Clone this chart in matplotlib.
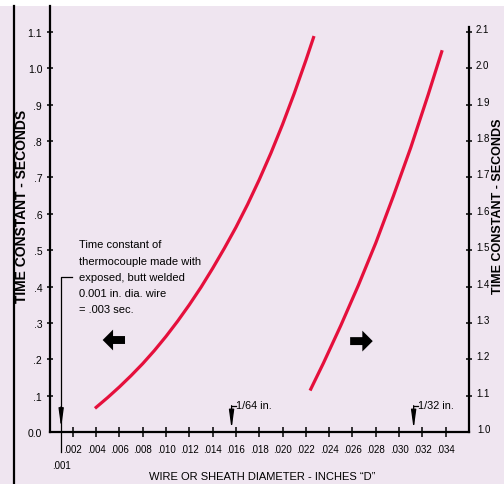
import matplotlib
matplotlib.use('Agg')
import matplotlib.pyplot as plt
from matplotlib import font_manager
from matplotlib.transforms import ScaledTranslation
from matplotlib.patches import Rectangle
from matplotlib.lines import Line2D

# ---- data ----
left_x = [0.0039, 0.0050, 0.0060, 0.0070, 0.0080, 0.0090, 0.0100, 0.0110, 0.0120, 0.0130,
          0.0140, 0.0150, 0.0160, 0.0170, 0.0180, 0.0190, 0.0200, 0.0210, 0.0220, 0.0227]
left_y = [0.065, 0.095, 0.124, 0.155, 0.188, 0.224, 0.263, 0.305, 0.350, 0.398,
          0.450, 0.505, 0.563, 0.626, 0.694, 0.767, 0.846, 0.931, 1.022, 1.089]
right_x = [0.02236, 0.0235, 0.0250, 0.0265, 0.0280, 0.0295, 0.0310, 0.0325, 0.0337]
right_y = [1.114, 1.189, 1.293, 1.403, 1.520, 1.648, 1.782, 1.928, 2.050]

x_ticks = [0.002, 0.004, 0.006, 0.008, 0.010, 0.012, 0.014, 0.016, 0.018,
           0.020, 0.022, 0.024, 0.026, 0.028, 0.030, 0.032, 0.034]
x_labels = ['.002', '.004', '.006', '.008', '.010', '.012', '.014', '.016', '.018',
            '.020', '.022', '.024', '.026', '.028', '.030', '.032', '.034']
left_ticks = [0.1, 0.2, 0.3, 0.4, 0.5, 0.6, 0.7, 0.8, 0.9, 1.0, 1.1]
left_labels = ['.1', '.2', '.3', '.4', '.5', '.6', '.7', '.8', '.9', '1.0', '1.1']
right_ticks = [1.1, 1.2, 1.3, 1.4, 1.5, 1.6, 1.7, 1.8, 1.9, 2.0, 2.1]
right_labels = ['1.1', '1.2', '1.3', '1.4', '1.5', '1.6', '1.7', '1.8', '1.9', '2.0', '2.1']

note_text = ("Time constant of\nthermocouple made with\nexposed, butt welded\n"
             "0.001 in. dia. wire\n= .003 sec.")

# ---- fonts ----
names = {f.name for f in font_manager.fontManager.ttflist}
NARROW = 'Liberation Sans Narrow' if 'Liberation Sans Narrow' in names else 'Liberation Sans'
plt.rcParams['font.family'] = [NARROW, 'DejaVu Sans']

BG = '#EFE5F0'
RED = '#E5103C'

fig = plt.figure(figsize=(5.04, 4.85), dpi=100)
fig.patch.set_facecolor('white')
fig.patches.append(Rectangle((0, 0), 1, 478 / 485, transform=fig.transFigure,
                             facecolor=BG, edgecolor='none', zorder=-10))
fig.add_artist(Line2D([13.5 / 504] * 2, [0, 478 / 485], transform=fig.transFigure,
                      color='black', lw=1.6))

ax = fig.add_axes([49.5 / 504, 52 / 485, 419.5 / 504, 426 / 485])
ax.set_facecolor('none')
ymax = 426 / 363.6
ax.set_xlim(0, 0.036)
ax.set_ylim(0, ymax)
for s in ['top', 'right']:
    ax.spines[s].set_visible(False)
for s in ['left', 'bottom']:
    ax.spines[s].set_linewidth(1.6)

ax.set_xticks(x_ticks, labels=x_labels)
ax.set_xticks([0.001], labels=['.001'], minor=True)
ax.set_yticks(left_ticks, labels=left_labels)
ax.set_yticks([0.0], labels=['0.0'], minor=True)
ax.tick_params(axis='x', which='major', direction='inout', length=7, width=1.1,
               pad=5, labelsize=7)
ax.tick_params(axis='x', which='minor', length=0, pad=20, labelsize=7)
ax.tick_params(axis='y', which='major', direction='inout', length=4.5, width=1.1,
               pad=3, labelsize=7.5)
ax.tick_params(axis='y', which='minor', length=0, pad=5.5, labelsize=7.5)

ax2 = ax.twinx()
ax2.set_ylim(1.0, 1.0 + ymax)
for s in ['top', 'left', 'bottom']:
    ax2.spines[s].set_visible(False)
ax2.spines['right'].set_linewidth(1.6)
ax2.spines['right'].set_bounds(1.0, 2.114)
ax2.set_yticks(right_ticks, labels=right_labels)
ax2.set_yticks([1.0], labels=['1.0'], minor=True)
ax2.tick_params(axis='y', which='major', direction='inout', length=5, width=1.1,
                pad=2.5, labelsize=7)
ax2.tick_params(axis='y', which='minor', length=0, pad=6, labelsize=7)
off = ScaledTranslation(0, 0.04, fig.dpi_scale_trans)
for lab in ax2.get_yticklabels(which='both'):
    lab.set_transform(lab.get_transform() + off)

# curves
ax.plot(left_x, left_y, color=RED, lw=2.3, solid_capstyle='butt', zorder=3)
ax2.plot(right_x, right_y, color=RED, lw=2.3, solid_capstyle='butt', zorder=3)

# big direction arrows
big = dict(arrowstyle='simple,head_length=0.5,head_width=1.0,tail_width=0.38',
           color='black', mutation_scale=15, shrinkA=0, shrinkB=0, lw=0)
ax.annotate('', xy=(0.00456, 0.253), xytext=(0.00648, 0.253), arrowprops=big)
ax.annotate('', xy=(0.02774, 0.250), xytext=(0.0258, 0.250), arrowprops=big)

# .001 leader and note
ax.plot([0.00193, 0.001, 0.001], [0.426, 0.426, -0.055], color='black', lw=0.9,
        clip_on=False, zorder=2)
small = dict(arrowstyle='-|>,head_length=1.1,head_width=0.15', color='black',
             mutation_scale=10, shrinkA=0, shrinkB=0, lw=0.9)
ax.annotate('', xy=(0.001, 0.012), xytext=(0.001, 0.07), arrowprops=small)
ax.text(0.00255, 0.530, note_text, fontsize=8, va='top', ha='left',
        linespacing=1.78)

# fraction markers
for xv, lab in [(1 / 64, '1/64 in.'), (1 / 32, '1/32 in.')]:
    ax.plot([xv, xv + 0.00035], [0.072, 0.072], color='black', lw=0.9)
    ax.annotate('', xy=(xv, 0.008), xytext=(xv, 0.0725), arrowprops=small)
    ax.text(xv + 0.00035, 0.073, lab, fontsize=7.8, va='center', ha='left')

# axis titles
fig.text(22 / 504, 1 - 206 / 485, 'TIME CONSTANT - SECONDS', rotation=90,
         fontsize=10, fontweight='bold', family=['Liberation Sans', 'DejaVu Sans'],
         ha='center', va='center')
fig.text(498 / 504, 1 - 206 / 485, 'TIME CONSTANT - SECONDS', rotation=90,
         fontsize=9, fontweight='bold', family=['Liberation Sans', 'DejaVu Sans'],
         ha='center', va='center')
fig.text(262 / 504, 1 - 477 / 485, 'WIRE OR SHEATH DIAMETER - INCHES \u201cD\u201d',
         fontsize=8, ha='center', va='center')

fig.savefig('out.png', dpi=100)
